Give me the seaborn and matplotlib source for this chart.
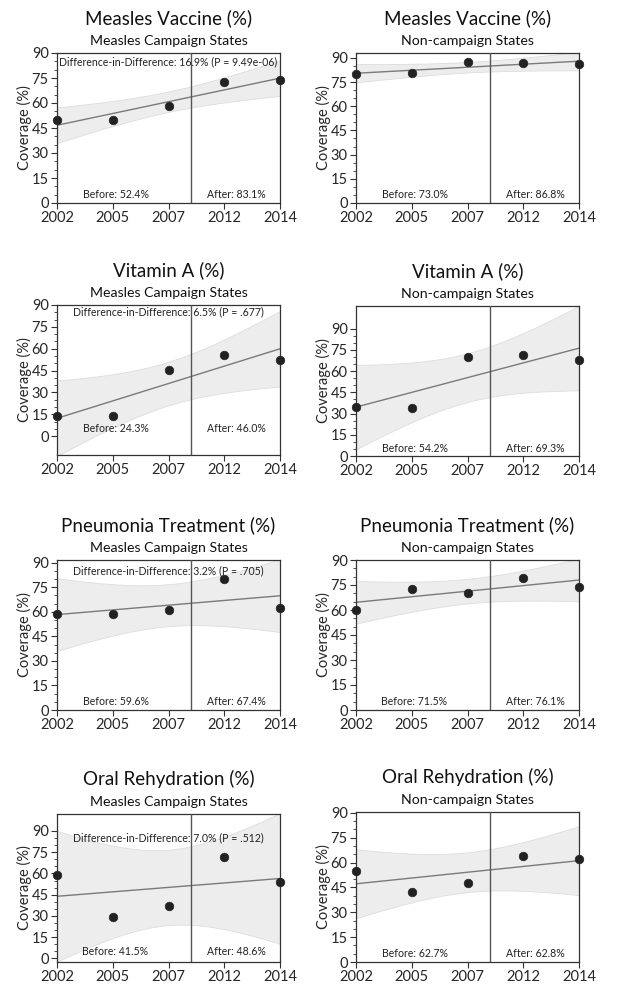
import numpy as np
import pandas as pd
import matplotlib
matplotlib.use("Agg")
import matplotlib.pyplot as plt
import matplotlib.ticker as ticker
import seaborn as sns

# Donnees
years = ["2002", "2005", "2007", "2012", "2014"]

measles_campaign = [49.8, 49.6, 58.3, 72.5, 73.7]
measles_non = [80.0, 80.6, 87.3, 86.7, 86.3]
vita_campaign = [13.5, 13.5, 45.5, 56.0, 51.9]
vita_non = [34.3, 33.8, 69.9, 71.3, 67.6]
pneu_campaign = [58.6, 58.6, 60.9, 80.0, 62.3]
pneu_non = [60.3, 72.9, 70.3, 79.1, 73.9]
ors_campaign = [59.2, 29.6, 36.7, 71.4, 54.0]
ors_non = [55.2, 42.2, 47.8, 63.7, 61.9]

titles = ["Measles Vaccine (%)", "Vitamin A (%)", "Pneumonia Treatment (%)", "Oral Rehydration (%)"]
subtitles = ["Measles Campaign States", "Non-campaign States"]

did_labels = [
    "Difference-in-Difference: 16.9% (P = 9.49e-06)",
    "Difference-in-Difference: 6.5% (P = .677)",
    "Difference-in-Difference: 3.2% (P = .705)",
    "Difference-in-Difference: 7.0% (P = .512)",
]
before_labels = [["Before: 52.4%", "Before: 73.0%"],
                 ["Before: 24.3%", "Before: 54.2%"],
                 ["Before: 59.6%", "Before: 71.5%"],
                 ["Before: 41.5%", "Before: 62.7%"]]
after_labels = [["After: 83.1%", "After: 86.8%"],
                ["After: 46.0%", "After: 69.3%"],
                ["After: 67.4%", "After: 76.1%"],
                ["After: 48.6%", "After: 62.8%"]]

series = [[measles_campaign, measles_non],
          [vita_campaign, vita_non],
          [pneu_campaign, pneu_non],
          [ors_campaign, ors_non]]

# limites y de chaque panneau
ylims = [[(0, 90), (0, 93)],
         [(-13, 90), (0, 106)],
         [(0, 91.7), (0, 90)],
         [(-2.5, 102), (0, 90.5)]]

sns.set_theme(style="ticks")
plt.rcParams['font.family'] = ['Lato', 'DejaVu Sans']

W, H = 617, 1001
fig = plt.figure(figsize=(W / 100, H / 100), dpi=100)

lefts = [57, 356]
tops = [[53, 53], [305, 306], [560, 560], [814, 812]]
bottoms = [203, 455, 710, 962]
width = 223

x = np.arange(len(years))
xs = np.linspace(0, 4, 101)
t_crit = 3.182  # t(0.975, df=3)

for r in range(4):
    for c in range(2):
        top = tops[r][c]
        bot = bottoms[r] if not (r == 1 and c == 1) else 456
        ax = fig.add_axes([lefts[c] / W, 1 - bot / H, width / W, (bot - top) / H])
        y = np.array(series[r][c])

        # ajustement lineaire + IC 95%
        slope, icpt = np.polyfit(x, y, 1)
        fit = icpt + slope * xs
        resid = y - (icpt + slope * x)
        s = np.sqrt(np.sum(resid ** 2) / (len(x) - 2))
        se = s * np.sqrt(1 / len(x) + (xs - x.mean()) ** 2 / np.sum((x - x.mean()) ** 2))
        ax.fill_between(xs, fit - t_crit * se, fit + t_crit * se, color="#ededed", lw=0.6,
                        edgecolor="#dddddd", zorder=1)
        sns.lineplot(x=xs, y=fit, ax=ax, color="#7a7a7a", lw=1.0, zorder=2)
        ax.axvline(2.4, color="#555555", lw=1.0, zorder=3)
        df = pd.DataFrame({"x": x, "y": y})
        sns.scatterplot(data=df, x="x", y="y", ax=ax, color="#222222", s=38,
                        edgecolor="#222222", linewidth=0.5, zorder=5, clip_on=False)

        ax.set_xlim(0, 4)
        ax.set_ylim(*ylims[r][c])
        ax.set_xticks(x)
        ax.set_xticklabels(years)
        ax.set_yticks(np.arange(0, 91, 15))
        ax.yaxis.set_minor_locator(ticker.FixedLocator(np.arange(0, 91, 5)))
        ax.tick_params(axis="both", which="major", labelsize=10.5, length=4, width=0.8,
                       color="#333333", pad=2)
        ax.tick_params(axis="y", which="minor", length=2.5, width=0.6, color="#333333")
        ax.set_xlabel("")
        ax.set_ylabel("Coverage (%)", fontsize=10.5, labelpad=0)
        for sp in ax.spines.values():
            sp.set_color("#333333")
            sp.set_linewidth(0.9)

        if c == 0:
            ax.text(2, 85, did_labels[r], ha="center", va="center", fontsize=7.6, color="#222222")
        ax.text(1.05, 5, before_labels[r][c], ha="center", va="center", fontsize=7.6, color="#222222")
        ax.text(3.22, 5, after_labels[r][c], ha="center", va="center", fontsize=7.6, color="#222222")

        cx = (lefts[c] + width / 2) / W
        fig.text(cx, 1 - (top - 35) / H, titles[r], ha="center", va="center", fontsize=13.5, color="#111111")
        fig.text(cx, 1 - (top - 12) / H, subtitles[c], ha="center", va="center", fontsize=10.2, color="#111111")

fig.savefig("out.png", dpi=100, facecolor="white")
